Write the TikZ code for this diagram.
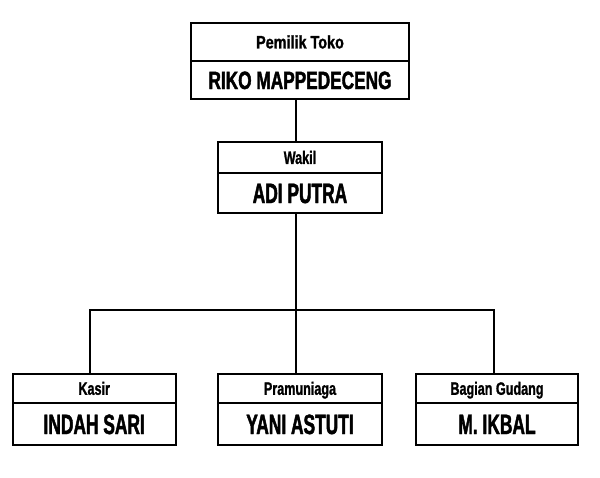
\documentclass[tikz,border=0pt]{standalone}
\usepackage{fontspec}
\newfontfamily\smallf{Liberation Sans Bold}[FakeStretch=0.70, FakeBold=1.2]
\newfontfamily\smallw{Liberation Sans Bold}[FakeStretch=0.80, FakeBold=1.2]
\newfontfamily\bigf{Liberation Sans Bold}[FakeStretch=0.62, FakeBold=1.6]
\newfontfamily\bigw{Liberation Sans Bold}[FakeStretch=0.69, FakeBold=1.6]
\tikzset{
  boxpart/.style={draw=black, line width=1.6pt, rectangle, inner sep=0pt, fill=white},
  hd/.style={boxpart, font=\smallf\fontsize{18}{20}\selectfont, text height=12.8pt, text depth=0pt},
  hdw/.style={boxpart, font=\smallw\fontsize{18}{20}\selectfont, text height=12.8pt, text depth=0pt},
  nm/.style={boxpart, font=\bigf\fontsize{28}{30}\selectfont, text height=20pt, text depth=0pt},
  nmw/.style={boxpart, font=\bigw\fontsize{25}{27}\selectfont, text height=18pt, text depth=0pt},
  link/.style={draw=black, line width=1.6pt}
}
\begin{document}
\begin{tikzpicture}[x=1pt,y=-1pt]
\useasboundingbox (0,0) rectangle (600,477);
\coordinate (bus) at (296,310);
% Owner
\node[hdw, minimum width=218pt, minimum height=38pt] (ownerT) at (300,42) {Pemilik Toko};
\node[nmw, minimum width=218pt, minimum height=38pt] (ownerB) at (300,80) {RIKO MAPPEDECENG};
% Wakil
\node[hd, minimum width=164pt, minimum height=31pt] (wakilT) at (300,157.5) {Wakil};
\node[nm, minimum width=164pt, minimum height=40pt] (wakilB) at (300,193) {ADI PUTRA};
% Kasir
\node[hd, minimum width=163pt, minimum height=29.3pt] (kasirT) at (94.2,388.4) {Kasir};
\node[nm, minimum width=163pt, minimum height=42pt] (kasirB) at (94.2,424) {INDAH SARI};
% Pramuniaga
\node[hd, minimum width=164pt, minimum height=29.3pt] (pramT) at (300,388.4) {Pramuniaga};
\node[nm, minimum width=164pt, minimum height=42pt] (pramB) at (300,424) {YANI ASTUTI};
% Gudang
\node[hd, minimum width=162pt, minimum height=29.3pt] (gudT) at (497,388.4) {Bagian Gudang};
\node[nm, minimum width=162pt, minimum height=42pt] (gudB) at (497,424) {M. IKBAL};
% connectors
\draw[link] ([xshift=-4pt]ownerB.south) -- ([xshift=-4pt]wakilT.north);
\draw[link] ([xshift=-4pt]wakilB.south) -- ([xshift=-4pt]pramT.north);
\draw[link] ([xshift=-4pt]kasirT.north) |- (bus) -| ([xshift=-3pt]gudT.north);
\end{tikzpicture}
\end{document}
